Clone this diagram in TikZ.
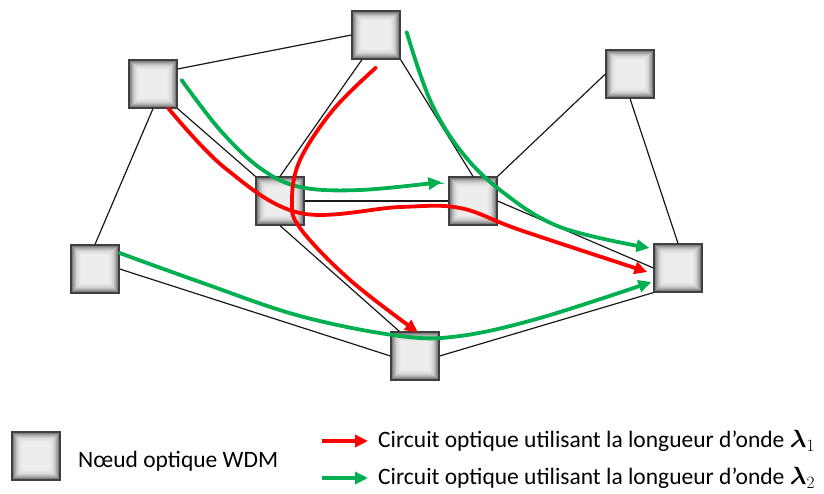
\documentclass[tikz,border=0pt]{standalone}
\usepackage{amsmath}
\usepackage{fontspec}
\setmainfont{Carlito}
\usetikzlibrary{arrows.meta}
\definecolor{optred}{HTML}{FF0000}
\definecolor{optgreen}{HTML}{00B050}
\definecolor{boxborder}{HTML}{404040}
\tikzset{
  wdm/.style={rectangle, minimum size=48pt, inner sep=0pt, draw=boxborder, line width=1.2pt, fill=black!6,
    path picture={
      \foreach \k/\c in {0/62,1/50,2/40,3/32,4/25,5/19,6/15,7/12,8/10,9/8,10/7}{
        \fill[black!\c!white] ([shift={(\k pt,\k pt)}]path picture bounding box.south west) rectangle ([shift={(-\k pt,-\k pt)}]path picture bounding box.north east);
      }
    }},
  link/.style={draw=black!90, line width=1.2pt},
  lam/.style={line width=3.8pt, line cap=round, -{Triangle[length=13pt,width=12pt]}},
  lamred/.style={lam, draw=optred, color=optred},
  lamgreen/.style={lam, draw=optgreen, color=optgreen},
  legtext/.style={anchor=west, font=\fontsize{23.5pt}{27pt}\selectfont, inner sep=0pt}
}
\begin{document}
\begin{tikzpicture}[x=1pt, y=-1pt]
\useasboundingbox (0,0) rectangle (824,494);
% nodes
\node[wdm] (A) at (153,84) {};
\node[wdm] (B) at (376,35) {};
\node[wdm] (C) at (280,201) {};
\node[wdm] (D) at (473,201) {};
\node[wdm] (E) at (630,74) {};
\node[wdm] (F) at (678,268) {};
\node[wdm] (G) at (95,269) {};
\node[wdm] (H) at (415,356) {};
% links
\draw[link] ([shift={(0,-15)}]A.east) -- (B.west);
\draw[link] (A.south) -- (G.north);
\draw[link] (A.south east) -- (C.north west);
\draw[link] ([shift={(-14,0)}]B.south) -- (C.north);
\draw[link] (B.south east) -- (D.north);
\draw[link] (C.east) -- (D.west);
\draw[link] (D.north east) -- (E.west);
\draw[link] (D.east) -- (F.west);
\draw[link] (E.south) -- (F.north);
\draw[link] (G.east) -- (H.west);
\draw[link] (C.south) -- ([shift={(9,0)}]H.north west);
\draw[link] (H.east) -- (F.south west);
% path end points
\coordinate (r1s) at ([shift={(-9,0)}]A.south east);
\coordinate (r1e) at ([shift={(-6,4)}]F.west);
\coordinate (r2s) at ([shift={(0,8)}]B.south);
\coordinate (r2e) at ([shift={(3,1)}]H.north);
\coordinate (g1s) at ([shift={(4,-4)}]A.east);
\coordinate (g1e) at ([shift={(-7,-19)}]D.west);
\coordinate (g2s) at ([shift={(6,-3)}]B.east);
\coordinate (g2e) at ([shift={(-4,-20)}]F.west);
\coordinate (g3s) at ([shift={(0,-16)}]G.east);
\coordinate (g3e) at ([shift={(-2,14)}]F.west);
% lightpaths
\draw[lamgreen] plot[smooth, tension=0.6] coordinates {(g1s) (220,130) (260,168) (300,187) (360,190) (g1e)};
\draw[lamgreen] plot[smooth, tension=0.6] coordinates {(g2s) (430,100) (460,150) (500,190) (560,227) (g2e)};
\draw[lamgreen] plot[smooth, tension=0.6] coordinates {(g3s) (200,282) (300,316) (400,336) (460,336) (540,318) (g3e)};
\draw[lamred] plot[smooth, tension=0.6] coordinates {(r1s) (225,168) (300,213) (400,207) (460,208) (520,230) (r1e)};
\draw[lamred] plot[smooth, tension=0.6] coordinates {(r2s) (333,110) (300,160) (292,200) (300,228) (350,280) (r2e)};
% legend
\node[wdm] (L) at (36,456) {};
\node[legtext] (Lt) at (78,461) {Nœud optique WDM};
\coordinate (lr1) at (322,441);
\coordinate (lr2) at (368,441);
\coordinate (lg1) at (322,478);
\coordinate (lg2) at (368,478);
\draw[lamred, line cap=butt] (lr1) -- (lr2);
\draw[lamgreen, line cap=butt] (lg1) -- (lg2);
\node[legtext] (T1) at (378,441) {Circuit optique utilisant la longueur d’onde $\boldsymbol{\lambda}_1$};
\node[legtext] (T2) at (378,478) {Circuit optique utilisant la longueur d’onde $\boldsymbol{\lambda}_2$};
\end{tikzpicture}
\end{document}
